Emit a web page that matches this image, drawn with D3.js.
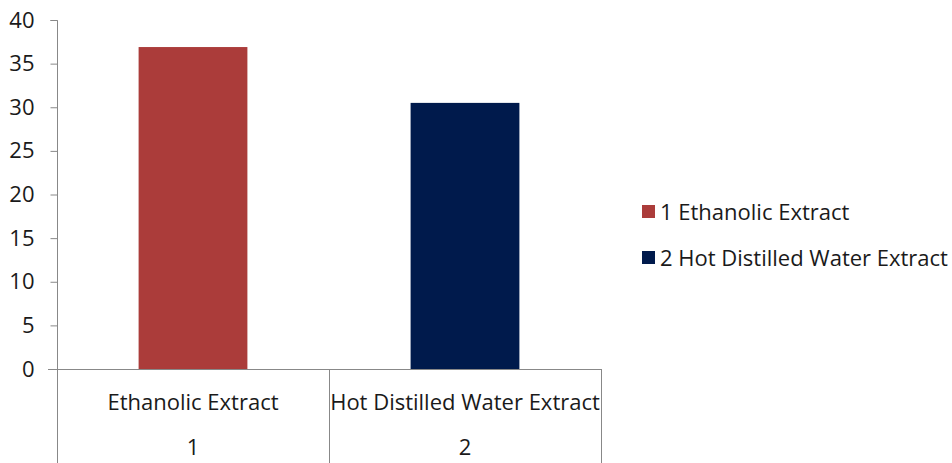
<!DOCTYPE html>
<html>
<head>
<meta charset="utf-8">
<script src="https://cdn.jsdelivr.net/npm/d3@7"></script>
<style>
  html, body { margin: 0; padding: 0; background: #fff; }
  svg { display: block; }
  text { font-family: "Open Sans", Lato, sans-serif; fill: #1a1a1a; }
</style>
</head>
<body>
<svg id="chart" width="952" height="463"></svg>
<script>
// Extract names, their group numbers and measured values
const categories = ["Ethanolic Extract", "Hot Distilled Water Extract"];
const groupNumbers = ["1", "2"];
const values = [36.9, 30.5];
const colors = ["#ab3c3a", "#001a4c"];
const yTicks = [0, 5, 10, 15, 20, 25, 30, 35, 40];
const legendLabels = ["1 Ethanolic Extract", "2 Hot Distilled Water Extract"];

const svg = d3.select("#chart");
const plotLeft = 57, plotRight = 601, plotTop = 20, plotBase = 369;
const axisColor = "#888";
const fontSize = 22;

const x = d3.scaleBand().domain(categories).range([plotLeft, plotRight]).paddingInner(0).paddingOuter(0);
const y = d3.scaleLinear().domain([0, 40]).range([plotBase, plotTop]);
const barW = x.bandwidth() * 0.4;

// Bars
svg.selectAll("rect.bar")
  .data(categories)
  .join("rect")
  .attr("class", "bar")
  .attr("x", (d) => x(d) + (x.bandwidth() - barW) / 2)
  .attr("y", (d, i) => y(values[i]))
  .attr("width", barW)
  .attr("height", (d, i) => plotBase - y(values[i]))
  .attr("fill", (d, i) => colors[i]);

// Y axis
const yAxis = d3.axisLeft(y).tickValues(yTicks).tickSize(7).tickPadding(16);
const gy = svg.append("g").attr("transform", `translate(${plotLeft + 0.5},0)`).call(yAxis);
gy.select(".domain").attr("stroke", axisColor).attr("d", `M-7,${plotTop + 0.5}H0V${plotBase}`);
gy.selectAll(".tick line").attr("stroke", axisColor);
gy.selectAll(".tick text").attr("font-size", fontSize).attr("fill", "#1a1a1a")
  .style("font-family", "'Open Sans', Lato, sans-serif");
gy.selectAll(".tick").filter((d) => d === 0).select("line").attr("x2", -9);

// X axis baseline and the category divider lines
svg.append("line")
  .attr("x1", plotLeft - 9).attr("x2", plotRight + 0.5)
  .attr("y1", plotBase + 0.5).attr("y2", plotBase + 0.5)
  .attr("stroke", axisColor);
const dividers = categories.map((d) => x(d)).concat([plotRight]);
svg.selectAll("line.div")
  .data(dividers)
  .join("line")
  .attr("class", "div")
  .attr("x1", (d) => Math.round(d) + 0.5).attr("x2", (d) => Math.round(d) + 0.5)
  .attr("y1", plotBase).attr("y2", 463)
  .attr("stroke", axisColor);

// Category labels (two rows: name and group number)
svg.selectAll("text.cat")
  .data(categories)
  .join("text")
  .attr("class", "cat")
  .attr("x", (d) => x(d) + x.bandwidth() / 2)
  .attr("y", 410)
  .attr("text-anchor", "middle")
  .attr("font-size", fontSize)
  .text((d) => d);
svg.selectAll("text.num")
  .data(categories)
  .join("text")
  .attr("class", "num")
  .attr("x", (d) => x(d) + x.bandwidth() / 2)
  .attr("y", 455)
  .attr("text-anchor", "middle")
  .attr("font-size", fontSize)
  .text((d, i) => groupNumbers[i]);

// Legend
const legend = svg.append("g").attr("transform", "translate(642,205)");
const item = legend.selectAll("g")
  .data(legendLabels)
  .join("g")
  .attr("transform", (d, i) => `translate(0,${i * 46})`);
item.append("rect").attr("width", 13).attr("height", 13).attr("fill", (d, i) => colors[i]);
item.append("text").attr("x", 18).attr("y", 15).attr("font-size", fontSize).text((d) => d);
</script>
</body>
</html>
